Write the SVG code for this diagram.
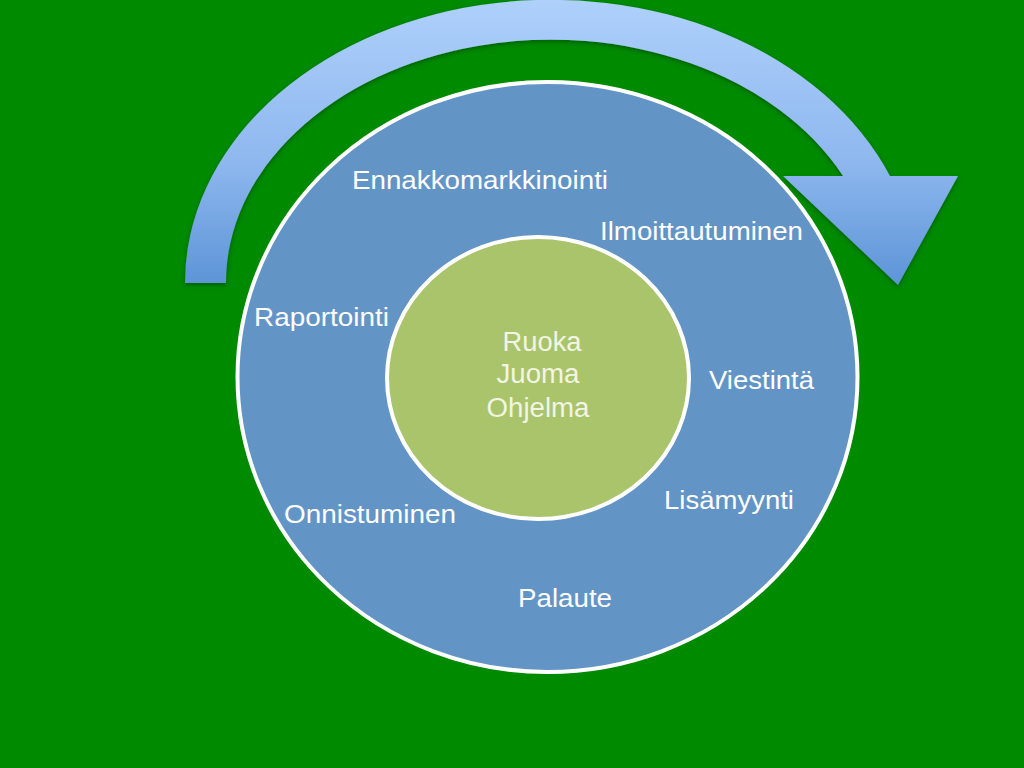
<svg xmlns="http://www.w3.org/2000/svg" width="1024" height="768" viewBox="0 0 1024 768">
<defs>
<style>
.lbl{font-family:"Liberation Sans",Arial,sans-serif;font-size:26px;fill:#ffffff;}
.ctr{font-family:"Liberation Sans",Arial,sans-serif;font-size:27px;fill:#f2f5e4;text-anchor:middle;}
</style>
<linearGradient id="arrowGrad" gradientUnits="userSpaceOnUse" x1="0" y1="0" x2="0" y2="290">
<stop offset="0" stop-color="#aed0fb"/>
<stop offset="0.55" stop-color="#8fb8ef"/>
<stop offset="1" stop-color="#5a93d6"/>
</linearGradient>
<filter id="shadow" x="-10%" y="-10%" width="120%" height="130%">
<feDropShadow dx="0" dy="2" stdDeviation="2" flood-color="#003000" flood-opacity="0.5"/>
</filter>
</defs>
<rect x="0" y="0" width="1024" height="768" fill="#008a00"/>
<g id="cycle-arrow">
<path d="M185,283 A366,283 0 0 1 890,176 L958,176 L898,285 L783,176 L843,176 A325,243 0 0 0 226,283 Z" fill="url(#arrowGrad)" filter="url(#shadow)"/>
</g>
<g id="outer-circle">
<ellipse cx="547.5" cy="377" rx="310" ry="295" fill="#6394c6" stroke="#ffffff" stroke-width="4"/>
</g>
<g id="inner-circle">
<ellipse cx="538" cy="378" rx="151" ry="141" fill="#aac46b" stroke="#ffffff" stroke-width="4"/>
<text class="ctr" x="542" y="351" textLength="79" lengthAdjust="spacingAndGlyphs">Ruoka</text>
<text class="ctr" x="538" y="383" textLength="83" lengthAdjust="spacingAndGlyphs">Juoma</text>
<text class="ctr" x="538" y="417" textLength="103" lengthAdjust="spacingAndGlyphs">Ohjelma</text>
</g>
<g id="labels">
<text class="lbl" x="352" y="189" textLength="256" lengthAdjust="spacingAndGlyphs">Ennakkomarkkinointi</text>
<text class="lbl" x="600" y="240" textLength="203" lengthAdjust="spacingAndGlyphs">Ilmoittautuminen</text>
<text class="lbl" x="709" y="389" textLength="105" lengthAdjust="spacingAndGlyphs">Viestintä</text>
<text class="lbl" x="664" y="509" textLength="130" lengthAdjust="spacingAndGlyphs">Lisämyynti</text>
<text class="lbl" x="518" y="607" textLength="94" lengthAdjust="spacingAndGlyphs">Palaute</text>
<text class="lbl" x="284" y="523" textLength="172" lengthAdjust="spacingAndGlyphs">Onnistuminen</text>
<text class="lbl" x="254" y="326" textLength="135" lengthAdjust="spacingAndGlyphs">Raportointi</text>
</g>
</svg>
